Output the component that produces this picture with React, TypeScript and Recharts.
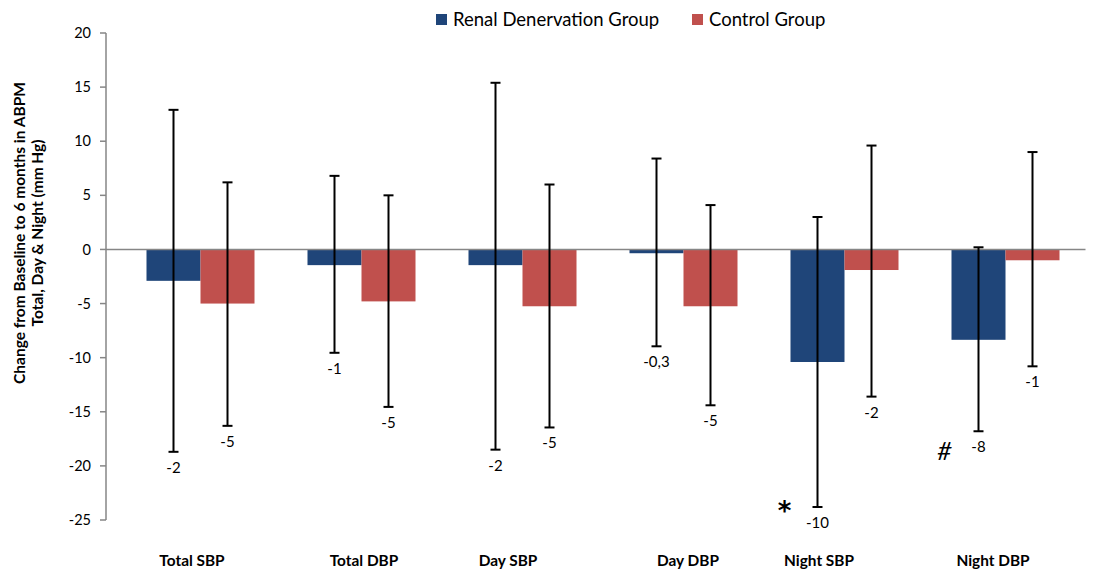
import React from 'react';
import { BarChart, Bar, XAxis, YAxis, ErrorBar, ReferenceLine, Legend } from 'recharts';

const categories = ['Total SBP', 'Total DBP', 'Day SBP', 'Day DBP', 'Night SBP', 'Night DBP'];

// Renal denervation group: mean change, lower / upper end of the error bar, printed label
const rdnValues = [-2.9, -1.45, -1.45, -0.35, -10.4, -8.35];
const rdnLow = [-18.7, -9.55, -18.5, -8.95, -23.8, -16.8];
const rdnHigh = [12.9, 6.8, 15.4, 8.4, 3.0, 0.2];
const rdnLabels = ['-2', '-1', '-2', '-0,3', '-10', '-8'];
const rdnMarks = ['', '', '', '', '*', '#'];

// Control group
const ctrlValues = [-5.0, -4.8, -5.25, -5.25, -1.9, -1.0];
const ctrlLow = [-16.3, -14.55, -16.45, -14.4, -13.6, -10.8];
const ctrlHigh = [6.2, 5.0, 6.0, 4.1, 9.6, 9.0];
const ctrlLabels = ['-5', '-5', '-5', '-5', '-2', '-1'];
const ctrlMarks = ['', '', '', '', '', ''];

const seriesNames = ['Renal Denervation Group', 'Control Group'];
const yTicks = [-25, -20, -15, -10, -5, 0, 5, 10, 15, 20];

const data = categories.map((name, i) => ({
  name,
  rdn: rdnValues[i],
  rdnErr: [rdnValues[i] - rdnLow[i], rdnHigh[i] - rdnValues[i]],
  rdnLow: rdnLow[i],
  rdnLabel: rdnLabels[i],
  rdnMark: rdnMarks[i],
  ctrl: ctrlValues[i],
  ctrlErr: [ctrlValues[i] - ctrlLow[i], ctrlHigh[i] - ctrlValues[i]],
  ctrlLow: ctrlLow[i],
  ctrlLabel: ctrlLabels[i],
  ctrlMark: ctrlMarks[i],
}));

const FONT = "Lato, 'Open Sans', sans-serif";
const BLUE = '#1F4579';
const RED = '#C0504D';
const AXIS = '#868686';

// excel put the category labels a bit off-centre
const tickNudge = [-8, 3, -14, 5, -25, -12];
const markNudge: Record<string, [number, number]> = { '*': [-33, -21], '#': [-34, 4] };

// bar + value label under the error bar (+ significance mark)
const barShape = (key: string) => (props: any) => {
  const { x, y, width, height, fill, payload } = props;
  const value = payload[key];
  const top = Math.min(y, y + height);
  const bottom = Math.max(y, y + height);
  const ppu = value !== 0 ? (bottom - top) / Math.abs(value) : 0;
  const zeroY = value < 0 ? top : bottom;
  const lowY = zeroY - ppu * payload[key + 'Low'];
  const cx = x + width / 2;
  const labelY = lowY + 15;
  const mark = payload[key + 'Mark'];
  return (
    <g>
      <rect x={x} y={top} width={width} height={bottom - top} fill={fill} />
      <text x={cx} y={labelY} textAnchor="middle" dominantBaseline="central" fontSize={15} fontFamily={FONT} fill="#000">
        {payload[key + 'Label']}
      </text>
      {mark && (
        <text
          x={cx + markNudge[mark][0]}
          y={labelY + markNudge[mark][1]}
          textAnchor="middle"
          dominantBaseline={mark === '*' ? 'hanging' : 'central'}
          fontSize={mark === '*' ? 26 : 25}
          fontWeight={mark === '*' ? 'bold' : 'normal'}
          fontStyle={mark === '#' ? 'italic' : 'normal'}
          fontFamily={mark === '*' ? "'DejaVu Sans', sans-serif" : FONT}
          fill="#000"
        >
          {mark}
        </text>
      )}
    </g>
  );
};

const CategoryTick = (props: any) => {
  const { x, y, payload, index } = props;
  return (
    <text x={x + (tickNudge[index] || 0)} y={y + 32} textAnchor="middle" dominantBaseline="central" fontSize={15.4} fontWeight="bold" fontFamily={FONT} fill="#000">
      {payload.value}
    </text>
  );
};

const YLabel = () => (
  <g fontFamily={FONT} fontSize={15.5} fontWeight="bold" fill="#000">
    <text x={19} y={233} textAnchor="middle" dominantBaseline="central" transform="rotate(-90 19 233)">
      Change from Baseline to 6 months in ABPM
    </text>
    <text x={37} y={233} textAnchor="middle" dominantBaseline="central" transform="rotate(-90 37 233)">
      Total, Day &amp; Night (mm Hg)
    </text>
  </g>
);

const legendLeft = [436, 692];

const LegendContent = (props: any) => {
  const items = [...(props.payload || [])].sort(
    (a: any, b: any) => seriesNames.indexOf(a.value) - seriesNames.indexOf(b.value)
  );
  return (
    <div style={{ position: 'relative', width: 1093, height: 40, fontFamily: FONT }}>
      {items.map((item: any, i: number) => (
        <div key={item.value} style={{ position: 'absolute', left: legendLeft[i], top: 8, display: 'flex', alignItems: 'center', whiteSpace: 'nowrap' }}>
          <span style={{ display: 'inline-block', width: 11, height: 11, background: item.color, marginRight: 6 }} />
          <span style={{ fontSize: 18.5, color: '#000', lineHeight: '22px' }}>{item.value}</span>
        </div>
      ))}
    </div>
  );
};

export default function App() {
  return (
    <div style={{ position: 'absolute', left: 0, top: 0, width: 1093, height: 569, background: '#fff' }}>
      <BarChart
        width={1093}
        height={569}
        data={data}
        margin={{ top: 33, right: 7.5, bottom: 0, left: 0 }}
        barSize={54}
        barGap={0}
      >
        <XAxis
          dataKey="name"
          axisLine={false}
          tickLine={false}
          height={49}
          padding={{ left: 13.5, right: 0 }}
          tick={<CategoryTick />}
          interval={0}
        />
        <YAxis
          width={106}
          domain={[-25, 20]}
          ticks={yTicks}
          interval={0}
          axisLine={{ stroke: AXIS, strokeWidth: 1.5 }}
          tickLine={{ stroke: AXIS, strokeWidth: 1.5 }}
          tickSize={6}
          tickMargin={9}
          tick={{ fontSize: 14.5, fill: '#000', fontFamily: FONT }}
          label={{ content: () => <YLabel /> }}
        />
        <Legend
          layout="horizontal"
          verticalAlign="middle"
          align="center"
          wrapperStyle={{ top: 0, left: 0, width: 1093, height: 40 }}
          content={<LegendContent />}
        />
        <ReferenceLine y={0} stroke={AXIS} strokeWidth={1.5} />
        <Bar dataKey="rdn" name={seriesNames[0]} fill={BLUE} shape={barShape('rdn')} isAnimationActive={false}>
          <ErrorBar dataKey="rdnErr" width={5} stroke="#000" strokeWidth={2} direction="y" />
        </Bar>
        <Bar dataKey="ctrl" name={seriesNames[1]} fill={RED} shape={barShape('ctrl')} isAnimationActive={false}>
          <ErrorBar dataKey="ctrlErr" width={5} stroke="#000" strokeWidth={2} direction="y" />
        </Bar>
      </BarChart>
    </div>
  );
}
